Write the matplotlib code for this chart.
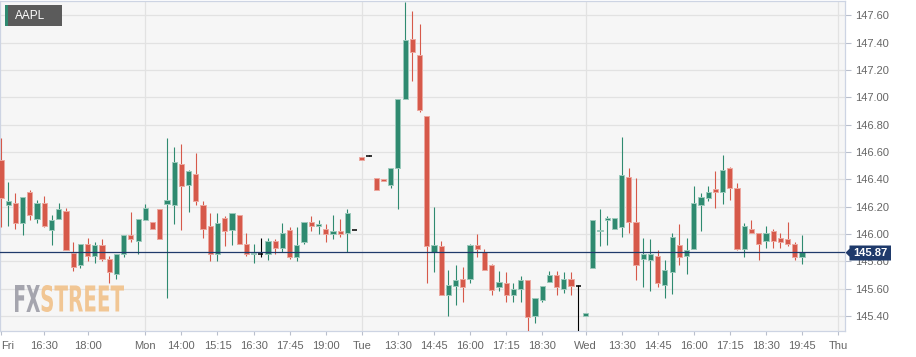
import matplotlib
matplotlib.use('Agg')
import matplotlib.pyplot as plt
import numpy as np
from matplotlib.patches import Polygon, PathPatch, Rectangle
from matplotlib.textpath import TextPath
from matplotlib.font_manager import FontProperties
from matplotlib.transforms import Affine2D

plt.rcParams['font.family'] = ['Liberation Sans', 'DejaVu Sans']

symbol = 'AAPL'
last_price = 145.87

opens = [146.54, 146.21, 146.23, 146.08, 146.31, 146.11, 146.23, 146.03, 146.11, 146.17,
         145.86, 145.77, 145.93, 145.84, 145.92, 145.82, 145.71, 145.85, 145.99, 145.95,
         146.10, 146.09, 146.18, 146.22, 146.21, 146.51, 146.36, 146.44, 146.21, 146.06,
         145.85, 146.12, 146.03, 146.14, 145.93, 145.85, 145.85, 145.85, 145.95, 145.90,
         146.03, 145.83, 145.94, 146.09, 146.06, 146.04, 146.00, 146.02, 146.01, 146.03,
         146.56, 146.57, 146.41, 146.40, 146.36, 146.48, 146.99, 147.43, 147.31, 146.86,
         145.87, 145.91, 145.55, 145.62, 145.67, 145.67, 145.92, 145.87, 145.77, 145.61,
         145.64, 145.55, 145.60, 145.66, 145.40, 145.52, 145.65, 145.70, 145.60, 145.67,
         145.62, 145.40, 145.75, 146.02, 146.10, 146.04, 146.05, 146.42, 146.09, 145.82,
         145.81, 145.84, 145.63, 145.72, 145.92, 145.84, 145.89, 146.21, 146.26, 146.33,
         146.31, 146.48, 146.34, 145.89, 146.04, 146.01, 145.95, 146.02, 145.97, 145.96,
         145.93, 145.83]
highs = [146.70, 146.38, 146.30, 146.27, 146.32, 146.25, 146.28, 146.14, 146.23, 146.19,
         145.94, 145.93, 145.97, 145.94, 145.96, 145.84, 145.85, 145.99, 146.16, 146.11,
         146.22, 146.09, 146.18, 146.70, 146.64, 146.66, 146.47, 146.59, 146.24, 146.15,
         146.15, 146.13, 146.15, 146.14, 146.01, 145.93, 145.97, 145.97, 145.96, 146.08,
         146.05, 146.05, 146.09, 146.13, 146.10, 146.07, 146.14, 146.11, 146.18, 146.03,
         146.56, 146.58, 146.41, 146.40, 146.48, 146.99, 147.70, 147.63, 147.54, 146.86,
         146.20, 145.95, 145.74, 145.77, 145.76, 145.93, 146.00, 145.89, 145.78, 145.73,
         145.72, 145.64, 145.69, 145.66, 145.53, 145.62, 145.73, 145.73, 145.72, 145.72,
         145.63, 145.42, 146.10, 146.18, 146.13, 146.12, 146.71, 146.48, 146.41, 145.97,
         145.96, 145.88, 145.81, 146.01, 146.07, 145.97, 146.35, 146.30, 146.35, 146.46,
         146.58, 146.49, 146.37, 146.08, 146.10, 146.01, 146.06, 146.04, 146.01, 146.09,
         145.94, 145.99]
lows = [146.05, 146.06, 146.04, 145.99, 146.10, 146.08, 146.05, 145.92, 146.11, 145.88,
        145.73, 145.75, 145.80, 145.79, 145.80, 145.64, 145.67, 145.83, 145.94, 145.85,
        146.10, 146.04, 145.96, 145.53, 146.07, 146.03, 146.16, 146.21, 145.97, 145.80,
        145.80, 145.91, 145.92, 145.93, 145.84, 145.79, 145.83, 145.81, 145.85, 145.87,
        145.82, 145.80, 145.93, 146.02, 146.00, 145.94, 145.96, 145.98, 145.87, 146.03,
        146.54, 146.57, 146.32, 146.39, 146.34, 146.18, 146.99, 147.12, 146.89, 145.64,
        145.72, 145.55, 145.40, 145.48, 145.50, 145.64, 145.83, 145.74, 145.55, 145.58,
        145.50, 145.50, 145.50, 145.29, 145.35, 145.50, 145.65, 145.55, 145.57, 145.55,
        145.29, 145.40, 145.75, 145.91, 145.92, 146.04, 145.98, 146.01, 145.66, 145.61,
        145.58, 145.61, 145.53, 145.56, 145.77, 145.71, 145.89, 146.02, 146.24, 146.19,
        146.22, 146.25, 145.88, 145.83, 146.01, 145.81, 145.90, 145.90, 145.90, 145.91,
        145.81, 145.78]
closes = [146.26, 146.24, 146.08, 146.27, 146.14, 146.23, 146.06, 146.10, 146.18, 145.88,
          145.76, 145.93, 145.84, 145.92, 145.82, 145.72, 145.85, 145.99, 145.96, 146.11,
          146.19, 146.04, 145.96, 146.25, 146.53, 146.35, 146.46, 146.24, 146.04, 145.85,
          146.08, 146.02, 146.15, 145.93, 145.85, 145.86, 145.85, 145.95, 145.90, 146.01,
          145.83, 145.92, 146.09, 146.06, 146.07, 146.00, 146.02, 146.00, 146.15, 146.03,
          146.54, 146.57, 146.32, 146.39, 146.48, 146.99, 147.42, 147.33, 146.91, 145.91,
          145.92, 145.55, 145.63, 145.66, 145.61, 145.92, 145.89, 145.74, 145.59, 145.65,
          145.55, 145.60, 145.66, 145.39, 145.53, 145.62, 145.70, 145.61, 145.67, 145.62,
          145.62, 145.42, 146.10, 146.03, 146.12, 146.12, 146.43, 146.09, 145.77, 145.85,
          145.85, 145.64, 145.74, 145.98, 145.83, 145.88, 146.23, 146.27, 146.31, 146.31,
          146.47, 146.34, 145.89, 146.06, 146.01, 145.93, 146.01, 145.95, 145.94, 145.93,
          145.83, 145.87]

tick_pos = [0, 6, 12, 20, 25, 30, 35, 40, 45, 50, 55, 60, 65, 70, 75,
            81, 86, 91, 96, 101, 106, 111, 116]
tick_labels = ['Fri', '16:30', '18:00', 'Mon', '14:00', '15:15', '16:30', '17:45',
               '19:00', 'Tue', '13:30', '14:45', '16:00', '17:15', '18:30',
               'Wed', '13:30', '14:45', '16:00', '17:15', '18:30', '19:45', 'Thu']
day_pos = [20, 50, 81, 116]
y_ticks = [145.40, 145.60, 145.80, 146.00, 146.20, 146.40, 146.60, 146.80,
           147.00, 147.20, 147.40, 147.60]

W, H = 916, 357
fig = plt.figure(figsize=(W / 100, H / 100), dpi=100)
fig.patch.set_facecolor('white')
ax = fig.add_axes([0.0, 26 / H, 845 / W, 330 / H])
ax.set_facecolor('#f6f6f6')

GREEN = '#2f8a70'
RED = '#d6594a'
GREEN_EDGE = '#9cc9bb'
RED_EDGE = '#eca89f'

o = np.array(opens); h = np.array(highs); l = np.array(lows); c = np.array(closes)
x = np.arange(len(o))
bw = 0.72

for i in range(len(o)):
    if c[i] > o[i]:
        col, ec = GREEN, GREEN_EDGE
    elif c[i] < o[i]:
        col, ec = RED, RED_EDGE
    else:
        col, ec = 'black', None
    ax.vlines(x[i], l[i], h[i], colors=col, lw=0.8, zorder=3)
    if ec is None:
        ax.hlines(o[i], x[i] - bw / 2, x[i] + bw / 2, colors='black', lw=1.1, zorder=4)
    else:
        bottom = min(o[i], c[i])
        height = max(abs(c[i] - o[i]), 0.009)
        ax.bar(x[i], height, bottom=bottom, width=bw, color=col, edgecolor=ec,
               linewidth=0.7, zorder=4)

ax.axhline(last_price, color='#1f3a6b', lw=0.9, zorder=5)

ax.set_xlim(-0.1386, 116.96)
ax.set_ylim(145.290, 147.705)

ax.set_yticks(y_ticks)
ax.set_yticklabels([f'{v:.2f}' for v in y_ticks])
ax.yaxis.tick_right()
ax.tick_params(axis='y', direction='out', length=4, width=0.8, color='#b9bfcc',
               labelsize=8, labelcolor='#666666', pad=3)
ax.set_xticks(tick_pos)
ax.set_xticklabels(tick_labels)
ax.tick_params(axis='x', direction='out', length=3, width=0.8, color='#b9bfcc',
               labelsize=8, labelcolor='#666666', pad=4)
ax.get_xticklabels()[0].set_horizontalalignment('left')

ax.grid(axis='y', color='#e2e2e2', lw=0.9, zorder=0)
for d in day_pos:
    ax.axvline(d, color='#e2e2e2', lw=0.9, zorder=0)
ax.set_axisbelow(True)
for s in ax.spines.values():
    s.set_color('#cdd4e3')
    s.set_linewidth(0.9)

# price tag on the right
def fx(px):
    return px / W

def fy(py):
    return 1 - py / H

tag = Polygon([(fx(845.5), fy(252.7)), (fx(849.5), fy(248.7)), (fx(849.5), fy(245.5)),
               (fx(891), fy(245.5)), (fx(891), fy(260.5)), (fx(849.5), fy(260.5)),
               (fx(849.5), fy(256.7))], closed=True, transform=fig.transFigure,
              facecolor='#1f3a6b', edgecolor='none', zorder=10)
fig.add_artist(tag)
fig.text(fx(870.5), fy(253.2), f'{last_price:.2f}', color='white', fontsize=8,
         fontweight='bold', ha='center', va='center', zorder=11)

# symbol badge
fig.add_artist(Rectangle((fx(5), fy(26)), fx(62) - fx(5), fy(5) - fy(26),
                         transform=fig.transFigure, facecolor='#5b5b5b',
                         edgecolor='none', zorder=10))
fig.add_artist(Rectangle((fx(5), fy(26)), fx(7.5) - fx(5), fy(5) - fy(26),
                         transform=fig.transFigure, facecolor=GREEN,
                         edgecolor='none', zorder=11))
fig.text(fx(15), fy(16), symbol, color='white', fontsize=8.5, ha='left', va='center',
         zorder=12)

# watermark
def wm(text, x0, x1, y0, y1, color):
    p = TextPath((0, 0), text, size=100,
                 prop=FontProperties(family='DejaVu Sans', weight='bold'))
    e = p.get_extents()
    tr = (Affine2D().translate(-e.x0, -e.y0)
          .scale((x1 - x0) / e.width / W, (y1 - y0) / e.height / H)
          .translate(x0 / W, 1 - y1 / H))
    fig.add_artist(PathPatch(tr.transform_path(p), transform=fig.transFigure,
                             facecolor=color, edgecolor='none', zorder=2, alpha=0.9))

wm('FX', 15, 40, 285, 312, '#9c9ca6')
wm('STREET', 41.5, 124, 285, 312, '#f1c189')

fig.savefig('out.png', dpi=100)
